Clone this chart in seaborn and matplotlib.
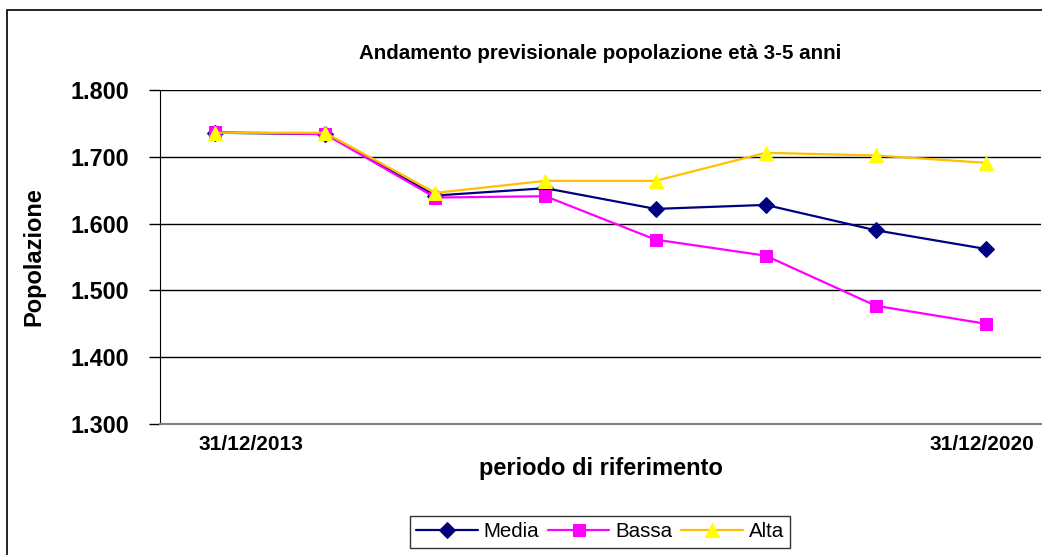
import numpy as np
import pandas as pd
import seaborn as sns
import matplotlib.pyplot as plt
from matplotlib.patches import Rectangle
from matplotlib.ticker import FuncFormatter

# dati (popolazione 3-5 anni)
periodi = ["31/12/2013", "31/12/2014", "31/12/2015", "31/12/2016",
           "31/12/2017", "31/12/2018", "31/12/2019", "31/12/2020"]
media = [1736, 1734, 1642, 1653, 1622, 1628, 1590, 1562]
bassa = [1737, 1734, 1639, 1641, 1576, 1552, 1477, 1450]
alta = [1736, 1736, 1646, 1664, 1664, 1706, 1702, 1691]
serie = ["Media", "Bassa", "Alta"]

df = pd.DataFrame({
    "x": list(range(len(periodi))) * 3,
    "valore": media + bassa + alta,
    "serie": np.repeat(serie, len(periodi)),
})

sns.set_style("white")
plt.rcParams['font.family'] = ['Liberation Sans', 'DejaVu Sans']
plt.rcParams.update({"text.color": "black", "axes.labelcolor": "black",
                     "xtick.color": "black", "ytick.color": "black"})

fig = plt.figure(figsize=(10.42, 5.55), dpi=100)
ax = fig.add_axes([160 / 1042, 1 - 424 / 555, 881 / 1042, 334 / 555])

palette = {"Media": "#000080", "Bassa": "#FF00FF", "Alta": "#FFC000"}
markers = {"Media": "D", "Bassa": "s", "Alta": "^"}
sizes = {"Media": 8, "Bassa": 8, "Alta": 10}
face = {"Media": "#000080", "Bassa": "#FF00FF", "Alta": "#FFFF00"}

for s in serie:
    sub = df[df["serie"] == s]
    sns.lineplot(data=sub, x="x", y="valore", ax=ax, color=palette[s], lw=1.6,
                 marker=markers[s], markersize=sizes[s], markerfacecolor=face[s],
                 markeredgecolor=face[s], label=s)

ax.set_xlim(-0.5, 7.5)
ax.set_ylim(1300, 1800)
ax.set_yticks(range(1300, 1801, 100))
ax.yaxis.set_major_formatter(FuncFormatter(lambda v, p: f"{int(v):,}".replace(",", ".")))
ax.grid(axis="y", color="black", lw=1)
ax.set_axisbelow(True)

# etichette solo per primo e ultimo periodo (come in Excel)
ax.set_xticks([])
for i, dx in [(0, 26), (len(periodi) - 1, -3)]:
    ax.annotate(periodi[i], xy=(i, 0), xycoords=("data", "axes fraction"),
                xytext=(dx, -15), textcoords="offset points",
                ha="center", va="center", fontsize=15, fontweight="bold")
ax.tick_params(axis="y", left=True, length=8, width=1, color="black", labelsize=16.8, pad=14)
for t in ax.get_yticklabels():
    t.set_fontweight("bold")

for side in ["top", "right"]:
    ax.spines[side].set_visible(False)
ax.spines["left"].set_color("black")
ax.spines["bottom"].set_color("#808080")
ax.spines["bottom"].set_linewidth(1.5)

ax.set_xlabel("periodo di riferimento", fontsize=17, fontweight="bold", labelpad=24)
ax.set_ylabel("Popolazione", fontsize=17, fontweight="bold", labelpad=18)
ax.set_title("Andamento previsionale popolazione età 3-5 anni",
             fontsize=14.8, fontweight="bold", pad=22)

leg = ax.legend(loc="upper center", bbox_to_anchor=(600 / 1042, 1 - 506 / 555),
                bbox_transform=fig.transFigure, ncol=3, frameon=True, fancybox=False,
                edgecolor="black", fontsize=14.8, handlelength=3, columnspacing=0.4,
                handletextpad=0.3, borderpad=0.3)
leg.get_frame().set_linewidth(1)

fig.patches.append(Rectangle((7 / 1042, -0.05), 1.1, 1 - 10 / 555 + 0.05,
                             transform=fig.transFigure, fill=False,
                             edgecolor="black", lw=1.2))

fig.savefig("out.png", dpi=100)
